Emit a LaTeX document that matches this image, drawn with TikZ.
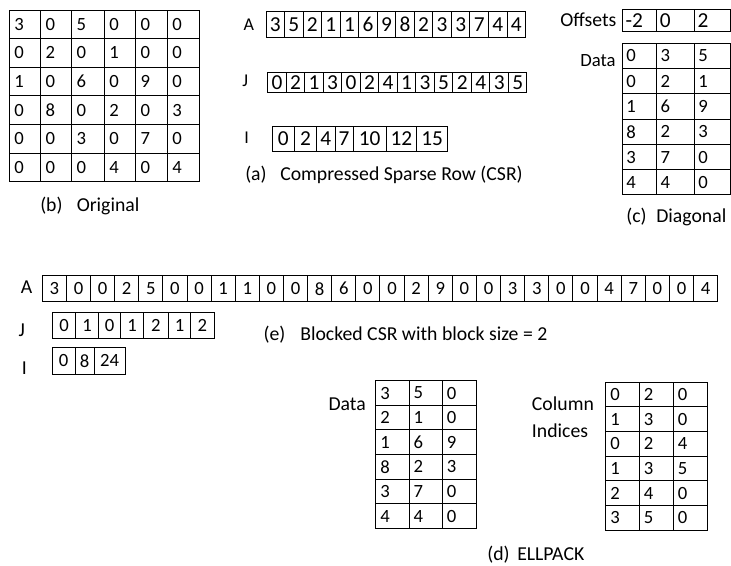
\documentclass[tikz,border=0pt]{standalone}
\usepackage{fontspec}
\setmainfont{Carlito}

% A table of left-aligned entries: name, column edges, top, row height, text style, text pad, rows
\newcommand\tabgrid[7]{%
  \foreach \rowvals [count=\r] in {#7} {
    \foreach \v [count=\c] in \rowvals {
      \pgfmathsetmacro\xl{{#2}[\c-1]}
      \pgfmathsetmacro\xr{{#2}[\c]}
      \pgfmathsetmacro\yt{#3+(\r-1)*#4}
      \draw[gridline] (\xl,\yt) rectangle (\xr,\yt+#4);
      \node[#5,anchor=west] (#1-\r-\c) at (\xl+#6,\yt+#4/2) {\v};
    }
  }%
}
% A one-row array with centred entries and uneven cells: name, edges, top, bottom, style, values
\newcommand\edgearray[6]{%
  \foreach \v [count=\c] in {#6} {
    \pgfmathsetmacro\xl{{#2}[\c-1]}
    \pgfmathsetmacro\xr{{#2}[\c]}
    \draw[gridline] (\xl,#3) rectangle (\xr,#4);
    \node[#5] (#1-\c) at ({(\xl+\xr)/2},{(#3+#4)/2}) {\v};
  }%
}
% A one-row array of equal cells: name, left, cell width, top, bottom, style, values
\newcommand\unifarray[7]{%
  \foreach \v [count=\c] in {#7} {
    \pgfmathsetmacro\xl{#2+(\c-1)*#3}
    \draw[gridline] (\xl,#4) rectangle (\xl+#3,#5);
    \node[#6] (#1-\c) at (\xl+#3/2,{(#4+#5)/2}) {\v};
  }%
}

\tikzset{
  gridline/.style={line width=0.75pt},
  tag/.style={inner sep=0pt, anchor=base west, font=\fontsize{14.8}{18}\selectfont},
  midtag/.style={inner sep=0pt, anchor=base west, font=\fontsize{14}{17}\selectfont},
  arrname/.style={inner sep=0pt, anchor=base west, font=\fontsize{13.5}{16}\selectfont},
  origdigit/.style={inner sep=0pt, font=\fontsize{14}{17}\selectfont},
  csrdigit/.style={inner sep=0pt, font=\fontsize{16}{19}\selectfont},
  celldigit/.style={inner sep=0pt, font=\fontsize{14}{17}\selectfont},
}

\begin{document}
\begin{tikzpicture}[x=0.75pt,y=-0.75pt]
\useasboundingbox (0,0) rectangle (731,565);

% (b) the original matrix
\tabgrid{orig}{9.3,40.7,71.7,104.3,135.7,167.3,199.3}{10}{28.6}{origdigit}{4.7}
  {{3,0,5,0,0,0},{0,2,0,1,0,0},{1,0,6,0,9,0},{0,8,0,2,0,3},{0,0,3,0,7,0},{0,0,0,4,0,4}}
\node[tag] (orig-tag) at (40,211.7) {(b)};
\node[tag] (orig-title) at (76.5,211.7) {Original};

% (a) CSR
\node[arrname] (csr-A) at (243.3,30) {A};
\unifarray{csra}{266}{18.54}{11.7}{37.3}{csrdigit}{3,5,2,1,1,6,9,8,2,3,3,7,4,4}
\node[arrname] (csr-J) at (242,86.7) {J};
\unifarray{csrj}{267.7}{18.52}{72.7}{92.3}{csrdigit}{0,2,1,3,0,2,4,1,3,5,2,4,3,5}
\node[arrname] (csr-I) at (244,143.3) {I};
\edgearray{csri}{272.3,294.3,316.7,335,353.3,386,416.7,447.7}{126.7}{151}{csrdigit}{0,2,4,7,10,12,15}
\node[tag] (csr-tag) at (245,180) {(a)};
\node[tag] (csr-title) at (280,180) {Compressed Sparse Row (CSR)};

% (c) diagonal
\node[tag] (dia-off) at (560,26.7) {Offsets};
\tabgrid{diaoff}{622.3,656.7,694.3,730}{9.3}{21.7}{csrdigit}{3}{{-2,0,2}}
\node[midtag] (dia-data) at (580,66.7) {Data};
\tabgrid{diadata}{622.3,656.7,694.3,730}{43.3}{25.28}{celldigit}{3.7}
  {{0,3,5},{0,2,1},{1,6,9},{8,2,3},{3,7,0},{4,4,0}}
\node[tag] (dia-tag) at (626,222.7) {(c)};
\node[tag] (dia-title) at (656,222.7) {Diagonal};

% (e) blocked CSR
\node[tag] (bcsr-A) at (20.7,293.3) {A};
\unifarray{bcsra}{42.3}{24.12}{275.7}{301.7}{celldigit}
  {3,0,0,2,5,0,0,1,1,0,0,8,6,0,0,2,9,0,0,3,3,0,0,4,7,0,0,4}
\node[tag] (bcsr-J) at (18.3,336.7) {J};
\edgearray{bcsrj}{52.3,75.7,98.3,120.7,143.3,168.3,190.7,214}{312.7}{338.3}{celldigit}{0,1,0,1,2,1,2}
\node[tag] (bcsr-I) at (21.7,374) {I};
\edgearray{bcsri}{52.3,75,94.3,125}{347.7}{374}{celldigit}{0,8,24}
\node[tag] (bcsr-tag) at (263.3,340) {(e)};
\node[tag] (bcsr-title) at (300,340) {Blocked CSR with block size = 2};

% (d) ELLPACK
\node[tag] (ell-data) at (328.3,410) {Data};
\tabgrid{elldata}{375.7,409,442.3,476}{380.7}{24.6}{celldigit}{4.3}
  {{3,5,0},{2,1,0},{1,6,9},{8,2,3},{3,7,0},{4,4,0}}
\node[tag] (ell-col) at (531.7,410) {Column};
\node[tag] (ell-ind) at (531.7,437.3) {Indices};
\tabgrid{ellcol}{605.7,639.3,673.3,707.3}{382.3}{24.62}{celldigit}{4.3}
  {{0,2,0},{1,3,0},{0,2,4},{1,3,5},{2,4,0},{3,5,0}}
\node[tag] (ell-tag) at (487,560) {(d)};
\node[tag] (ell-title) at (517,560) {ELLPACK};
\end{tikzpicture}
\end{document}
